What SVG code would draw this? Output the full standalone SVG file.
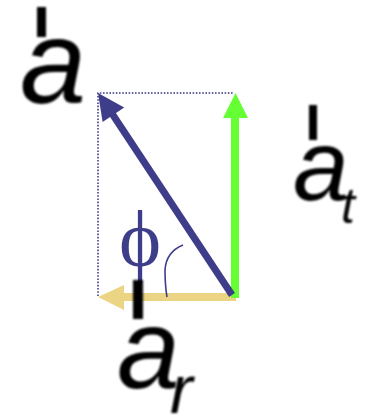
<svg xmlns="http://www.w3.org/2000/svg" width="366" height="417" viewBox="0 0 366 417">
<style>
.lbl{font-family:"Liberation Sans",Arial,sans-serif;font-style:italic;fill:#000}
.bar{fill:#000}
.navy{fill:#3d3d8a}
</style>
<defs>
<filter id="soft" x="-20%" y="-20%" width="140%" height="140%"><feGaussianBlur stdDeviation="1"/></filter>
</defs>
<rect width="366" height="417" fill="#fff"/>
<g id="connectors">
<path id="guide" d="M98,296 V93 H234" fill="none" stroke="#3d3d8a" stroke-width="1.6" stroke-dasharray="1.6 1.6"/>
<g id="arrow-r">
<rect x="122" y="293" width="114" height="8" fill="#ebd483"/>
<polygon points="98,297 124,285 124,310" fill="#ebd483"/>
</g>
<g id="arrow-t">
<rect x="231" y="116" width="8" height="182" fill="#66ff33"/>
<polygon points="235.5,93 223,118 248,118" fill="#66ff33"/>
</g>
<g id="arrow-a">
<line x1="232" y1="295" x2="111" y2="112" stroke="#3d3d8a" stroke-width="7"/>
<polygon points="98,93 124.2,107.5 102.6,121.9" fill="#3d3d8a"/>
</g>
<path id="angle-arc" d="M183,245 Q166,252 165,270 Q165,285 167,297" fill="none" stroke="#3d3d8a" stroke-width="1.6"/>
</g>
<g id="phi">
<text x="140" y="266" font-family="Liberation Serif,'Times New Roman',serif" font-size="80" text-anchor="middle" class="navy">ϕ</text>
</g>
<g id="label-a" filter="url(#soft)">
<rect class="bar" x="37" y="7" width="9" height="30"/>
<text class="lbl" x="20" y="103" font-size="119">a</text>
</g>
<g id="label-at" filter="url(#soft)">
<rect class="bar" x="309" y="105" width="8" height="35"/>
<text class="lbl" x="293" y="200" font-size="100">a</text>
<text class="lbl" x="341" y="223" font-size="50">t</text>
</g>
<g id="label-ar" filter="url(#soft)">
<rect class="bar" x="133" y="280" width="10" height="39"/>
<text class="lbl" x="117" y="388" font-size="113">a</text>
<text class="lbl" x="170" y="413" font-size="68">r</text>
</g>
</svg>
